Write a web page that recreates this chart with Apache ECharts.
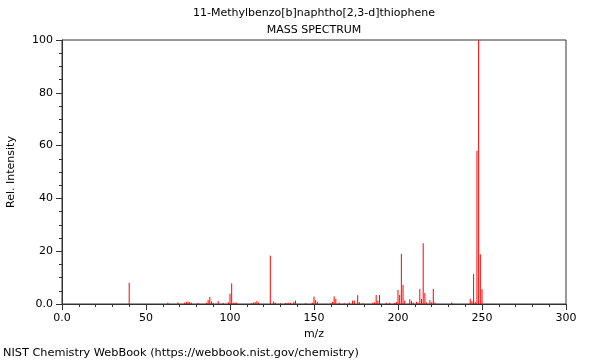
<!DOCTYPE html>
<html>
<head>
<meta charset="utf-8">
<script src="https://cdn.jsdelivr.net/npm/echarts@6/dist/echarts.min.js"></script>
<style>
html,body{margin:0;padding:0;background:#fff;}
#c{width:600px;height:360px;}
</style>
</head>
<body>
<div id="c"></div>
<script>
const titleLine1 = "11-Methylbenzo[b]naphtho[2,3-d]thiophene";
const titleLine2 = "MASS SPECTRUM";
const xLabel = "m/z";
const yLabel = "Rel. Intensity";
const footer = "NIST Chemistry WebBook (https://webbook.nist.gov/chemistry)";

const mz = [40,63,69,73,74,75,76,77,81,86,87,88,89,90,93,96,99,100,101,102,103,104,
  113,114,115,116,117,124,126,127,130,133,134,135,136,138,139,145,149,150,151,152,
  160,161,162,163,165,168,171,173,174,176,177,179,185,186,187,188,189,193,195,198,199,
  200,201,202,203,204,207,208,209,211,212,213,214,215,216,217,219,220,221,222,232,
  243,244,245,246,247,248,249,250];
const intensity = [8.0,0.5,0.6,0.5,0.8,0.9,0.7,0.5,0.4,0.5,1.5,2.7,1.0,0.4,1.1,0.4,0.7,3.9,7.8,0.5,0.5,0.5,
  0.4,0.5,0.7,1.1,0.6,18.3,0.9,0.5,0.3,0.4,0.4,0.5,0.4,0.8,1.3,0.3,0.5,2.8,1.5,0.8,
  0.3,0.8,2.9,1.9,0.6,0.3,0.6,1.3,1.3,3.3,0.7,0.3,0.5,0.6,3.4,1.3,3.4,0.5,0.5,0.4,0.8,
  5.3,3.4,19.0,7.2,1.3,1.8,1.2,0.5,0.8,0.5,5.7,1.9,23.0,4.2,0.6,1.5,0.6,5.7,0.6,0.6,
  2.0,1.1,11.3,0.8,58.0,100,18.8,5.6];

const xMin = 0, xMax = 300, xStep = 50;
const yMin = 0, yMax = 100, yStep = 20;

const data = mz.map((m, i) => [m, intensity[i]]);
const font = "DejaVu Sans";
const fmt = v => (v === 0 ? "0.0" : String(v));

const chart = echarts.init(document.getElementById('c'), null, {renderer: 'canvas'});
chart.setOption({
  animation: false,
  backgroundColor: '#ffffff',
  title: [
    {text: titleLine1, left: 314, top: 8, textAlign: 'center', padding: 0,
     textStyle: {fontFamily: font, fontSize: 11, fontWeight: 'normal', color: '#000'}},
    {text: titleLine2, left: 314, top: 25, textAlign: 'center', padding: 0,
     textStyle: {fontFamily: font, fontSize: 11, fontWeight: 'normal', color: '#000'}},
    {text: footer, left: 3, top: 348, padding: 0,
     textStyle: {fontFamily: font, fontSize: 11.3, fontWeight: 'normal', color: '#000'}}
  ],
  grid: {left: 62, right: 34, top: 40, bottom: 56, show: true, borderColor: '#333', borderWidth: 1,
         backgroundColor: 'transparent', containLabel: false, outerBoundsMode: 'none'},
  xAxis: {
    type: 'value', min: xMin, max: xMax, interval: xStep,
    name: xLabel, nameLocation: 'middle', nameGap: 25,
    nameTextStyle: {fontFamily: font, fontSize: 11, color: '#000'},
    axisLine: {lineStyle: {color: '#333', width: 1}},
    axisTick: {show: true, length: 6, lineStyle: {color: '#333'}},
    minorTick: {show: true, splitNumber: 5, length: 3, lineStyle: {color: '#333'}},
    splitLine: {show: false},
    axisLabel: {formatter: fmt, fontFamily: font, fontSize: 11, color: '#000', margin: 9}
  },
  yAxis: {
    type: 'value', min: yMin, max: yMax, interval: yStep,
    name: yLabel, nameLocation: 'middle', nameGap: 45, nameRotate: 90,
    nameTextStyle: {fontFamily: font, fontSize: 11, color: '#000'},
    axisLine: {show: true, lineStyle: {color: '#333', width: 1}},
    axisTick: {show: true, length: 6, lineStyle: {color: '#333'}},
    minorTick: {show: true, splitNumber: 4, length: 3, lineStyle: {color: '#333'}},
    splitLine: {show: false},
    axisLabel: {formatter: fmt, fontFamily: font, fontSize: 11, color: '#000', margin: 9}
  },
  series: [{
    type: 'custom',
    data: data,
    silent: true,
    encode: {x: 0, y: 1},
    renderItem: function (params, api) {
      const p0 = api.coord([api.value(0), 0]);
      const p1 = api.coord([api.value(0), api.value(1)]);
      return {
        type: 'line',
        shape: {x1: p0[0], y1: p0[1], x2: p1[0], y2: p1[1]},
        style: {stroke: '#ff0000', lineWidth: 1}
      };
    }
  }]
});
</script>
</body>
</html>
